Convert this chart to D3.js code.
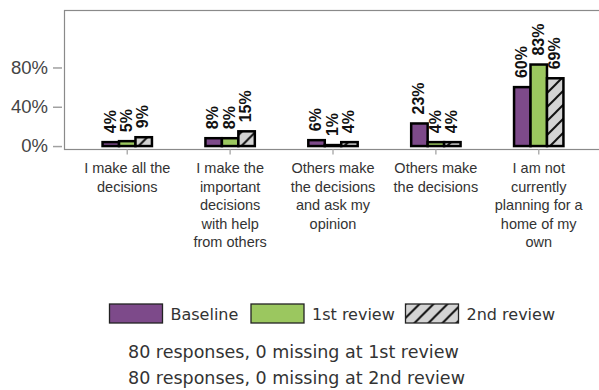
<!DOCTYPE html>
<meta charset="utf-8">
<script src="https://d3js.org/d3.v7.min.js"></script>
<style>
  body { margin: 0; background: #fff; }
</style>
<div id="my_dataviz"></div>
<script>

// data
var categories = [
  ["I make all the", "decisions"],
  ["I make the", "important", "decisions", "with help", "from others"],
  ["Others make", "the decisions", "and ask my", "opinion"],
  ["Others make", "the decisions"],
  ["I am not", "currently", "planning for a", "home of my", "own"]
];
var series = ["Baseline", "1st review", "2nd review"];
var baseline = [4, 8, 6, 23, 60];
var review1 = [5, 8, 1, 4, 83];
var review2 = [9, 15, 4, 4, 69];
var yTicks = [0, 40, 80];
var notes = ["80 responses, 0 missing at 1st review",
             "80 responses, 0 missing at 2nd review"];

var values = [baseline, review1, review2];
var fills = ["#7d4a8a", "#9bc75f", "url(#hatch)"];

var W = 599, H = 390;
var box = {left: 64.5, top: 10.5, right: 601.5, bottom: 149.5};

var svg = d3.select("#my_dataviz")
  .append("svg")
    .attr("width", W)
    .attr("height", H);

// hatch pattern for 2nd review
var pat = svg.append("defs").append("pattern")
    .attr("id", "hatch")
    .attr("patternUnits", "userSpaceOnUse")
    .attr("width", 14)
    .attr("height", 14);
pat.append("rect").attr("width", 14).attr("height", 14).attr("fill", "#d4d4d4");
pat.append("path")
    .attr("d", "M-2,2 L2,-2 M0,14 L14,0 M12,16 L16,12")
    .attr("stroke", "#111")
    .attr("stroke-width", 2);

var keys = d3.range(categories.length);

var x0 = d3.scaleBand()
  .domain(keys)
  .range([box.left, box.right])
  .paddingInner(0.52)
  .paddingOuter(0.37);

var x1 = d3.scaleBand()
  .domain(d3.range(series.length))
  .range([0, x0.bandwidth()]);

var y = d3.scaleLinear()
  .domain([-3.5, 138])
  .range([box.bottom, box.top]);

// frame (right side runs off the page)
svg.append("rect")
  .attr("x", box.left).attr("y", box.top)
  .attr("width", box.right - box.left).attr("height", box.bottom - box.top)
  .attr("fill", "none")
  .attr("stroke", "#8a8a8a")
  .attr("stroke-width", 1.2);

// Y axis
var yAxis = svg.append("g")
  .attr("transform", "translate(" + (box.left - 2.5) + ",0)")
  .call(d3.axisLeft(y).tickValues(yTicks).tickSize(9).tickPadding(5)
        .tickFormat(function(d) { return d + "%"; }));
yAxis.select(".domain").remove();
yAxis.selectAll(".tick line").attr("stroke", "#a0a0a0").attr("stroke-width", 1.5);
yAxis.selectAll(".tick text")
  .attr("fill", "#444")
  .style("font-family", "'Liberation Sans', Arial, sans-serif")
  .style("font-size", "18.5px");

// X axis ticks
var xAxis = svg.append("g")
  .attr("transform", "translate(0," + box.bottom + ")")
  .call(d3.axisBottom(x0).tickSize(5).tickFormat(""));
xAxis.select(".domain").remove();
xAxis.selectAll(".tick line").attr("stroke", "#b0b0b0").attr("stroke-width", 1.5);

// X labels
var labels = svg.append("g")
  .selectAll("text")
  .data(keys)
  .enter()
  .append("text")
    .attr("x", function(d) { return x0(d) + x0.bandwidth() / 2; })
    .attr("y", 173)
    .attr("text-anchor", "middle")
    .attr("fill", "#333")
    .style("font-family", "'Liberation Sans', Arial, sans-serif")
    .style("font-size", "14.5px");
labels.selectAll("tspan")
  .data(function(d) { return categories[d]; })
  .enter()
  .append("tspan")
    .attr("x", function() { return this.parentNode.getAttribute("x"); })
    .attr("dy", function(d, i) { return i === 0 ? 0 : 18.5; })
    .text(function(d) { return d; });

// bars
var groups = svg.append("g")
  .selectAll("g")
  .data(keys)
  .enter()
  .append("g")
    .attr("transform", function(d) { return "translate(" + x0(d) + ",0)"; });

var cells = groups.selectAll("g")
  .data(function(c) {
    return series.map(function(s, i) { return {s: i, v: values[i][c]}; });
  })
  .enter()
  .append("g");

cells.append("rect")
  .attr("x", function(d) { return x1(d.s); })
  .attr("y", function(d) { return y(d.v); })
  .attr("width", x1.bandwidth())
  .attr("height", function(d) { return y(0) - y(d.v); })
  .attr("fill", function(d) { return fills[d.s]; })
  .attr("stroke", "#000")
  .attr("stroke-width", 2.5);

cells.append("text")
  .attr("transform", function(d) {
    return "translate(" + (x1(d.s) + x1.bandwidth() / 2 - 1) + "," + (y(d.v) - 9) + ") rotate(-90)";
  })
  .attr("dy", "0.36em")
  .attr("text-anchor", "start")
  .attr("fill", "#111")
  .style("font-family", "'Liberation Sans', Arial, sans-serif")
  .style("font-weight", "bold")
  .style("font-size", "16px")
  .text(function(d) { return d.v + "%"; });

// legend
var legX = [109.5, 251, 405.5];
var leg = svg.append("g")
  .selectAll("g")
  .data(series)
  .enter()
  .append("g")
    .attr("transform", function(d, i) { return "translate(" + legX[i] + ",304)"; });
leg.append("rect")
  .attr("width", 53)
  .attr("height", 19)
  .attr("fill", function(d, i) { return fills[i]; })
  .attr("stroke", "#222")
  .attr("stroke-width", 1.3);
leg.append("text")
  .attr("x", 61)
  .attr("y", 15.5)
  .attr("fill", "#333")
  .style("font-family", "'DejaVu Sans', sans-serif")
  .style("font-size", "16px")
  .text(function(d) { return d; });

// notes
svg.append("g")
  .selectAll("text")
  .data(notes)
  .enter()
  .append("text")
    .attr("x", 128)
    .attr("y", function(d, i) { return 358 + i * 26; })
    .attr("fill", "#333")
    .style("font-family", "'DejaVu Sans', sans-serif")
    .style("font-size", "17.5px")
    .text(function(d) { return d; });

</script>
